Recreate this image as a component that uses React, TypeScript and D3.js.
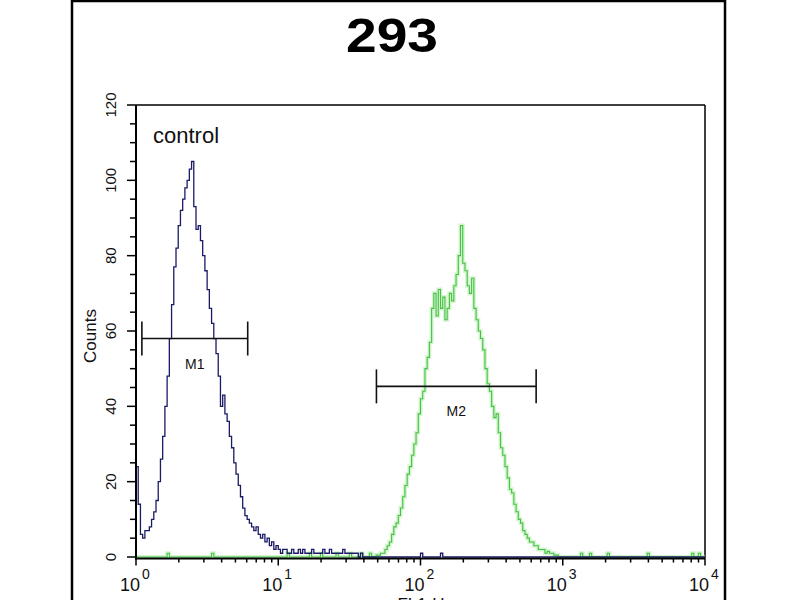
import React from 'react';
import * as d3 from 'd3';

// histogram channels: 256 channels over 4 decades (64 per decade)
const CHANNELS = 256;
const PER_DECADE = 64;

// control (blue) counts, starting at channel 0
const controlStart = 0;
const controlCounts = [
  24, 14, 6, 5, 7, 7, 8, 10, 12, 15, 20, 26, 32, 40, 48, 58,
  67, 77, 82, 88, 92, 95, 98, 100, 103, 105, 93, 87, 88, 84, 80, 76,
  71, 66, 62, 58, 54, 48, 40, 43, 38, 36, 32, 29, 25, 22, 19, 16,
  13, 11, 10, 9, 8, 7, 8, 6, 5, 6, 4, 5, 3, 4, 2, 3,
  2, 1, 2, 2, 1, 1, 2, 1, 1, 2, 1, 2, 1, 1, 1, 2,
  1, 1, 1, 1, 2, 1, 1, 2, 1, 1, 1, 1, 1, 2, 1, 1,
  1, 1, 1, 1, 0, 1, 0, 0,
];
const controlBlips = [128, 137];

// sample (green) counts, starting at channel 108
const stimStart = 108;
const stimCounts = [
  0.5, 0.5, 1, 1, 2, 3, 4, 6, 8, 9, 11, 13, 16, 19, 22, 24,
  27, 30, 33, 38, 42, 44, 50, 53, 57, 66, 70, 64, 71, 66, 69, 63,
  66, 70, 68, 72, 75, 80, 88, 78, 76, 72, 70, 74, 66, 63, 60, 58,
  55, 50, 46, 44, 40, 37, 38, 33, 29, 27, 24, 21, 18, 17, 14, 12,
  10, 9, 7, 6, 5, 4, 4, 3, 3, 2, 2, 2, 1, 1.5, 1, 1,
  0.5, 0.5, 0,
];
const stimBlips = [14, 34, 68, 78, 83, 90, 96, 101, 105, 200, 204, 212, 230, 250, 253];

// markers: [label, low, high, count level]
const markers: [string, number, number, number][] = [
  ['M1', 1.1, 6.1, 58],
  ['M2', 49, 650, 45.3],
];

const xDecades = [1, 10, 100, 1000, 10000];
const yTicks = d3.range(0, 121, 5);
const yLabels = [0, 20, 40, 60, 80, 100, 120];

function fullSeries(start: number, counts: number[], blips: number[]) {
  const arr = new Array(CHANNELS).fill(0);
  counts.forEach((c, i) => { arr[start + i] = c; });
  blips.forEach((b) => { if (arr[b] < 1) arr[b] = 1; });
  return arr;
}

const font = '"Liberation Sans", Arial, sans-serif';

export default function App() {
  const x = d3.scaleLog().domain([1, 1e4]).range([136, 705]);
  const y = d3.scaleLinear().domain([0, 120]).range([557, 105]);
  const axisY = 558.5;

  const line = d3.line<[number, number]>()
    .x((d) => d[0])
    .y((d) => d[1])
    .curve(d3.curveStepAfter);

  const toPath = (arr: number[]) => {
    const pts: [number, number][] = arr.map((c, j) => [x(Math.pow(10, j / PER_DECADE)), y(c)]);
    pts.push([x(1e4), y(arr[arr.length - 1])]);
    return line(pts) || '';
  };

  const control = toPath(fullSeries(controlStart, controlCounts, controlBlips));
  const stim = toPath(fullSeries(stimStart, stimCounts, stimBlips));

  const xMinor = x.ticks().filter((t) => !xDecades.includes(t));

  return (
    <svg width={800} height={600} style={{ position: 'fixed', left: 0, top: 0, background: '#fff' }}>
      <rect x={0} y={0} width={800} height={600} fill="#fff" />
      {/* outer frame */}
      <rect x={72} y={1} width={653} height={620} fill="none" stroke="#000" strokeWidth={2.5} />

      {/* title */}
      <text x={392} y={52} textAnchor="middle" fontFamily={font} fontWeight="bold" fontSize={48}
        textLength={92} lengthAdjust="spacingAndGlyphs">293</text>

      {/* plot box */}
      <line x1={136} x2={705} y1={105} y2={105} stroke="#000" strokeWidth={1.5} />
      <line x1={705} x2={705} y1={105} y2={axisY} stroke="#000" strokeWidth={1.5} />

      {/* histograms */}
      <path d={stim} fill="none" stroke="#b6eeae" strokeWidth={4} strokeOpacity={0.6} />
      <path d={stim} fill="none" stroke="#46c046" strokeWidth={1.1} />
      <path d={control} fill="none" stroke="#1a1a66" strokeWidth={1.3} />

      {/* axes */}
      <line x1={136} x2={136} y1={105} y2={axisY + 1} stroke="#000" strokeWidth={2} />
      <line x1={135} x2={705} y1={axisY} y2={axisY} stroke="#000" strokeWidth={2} />

      {yTicks.map((t) => (
        <line key={'yt' + t} x1={t % 20 === 0 ? 127 : 130} x2={136} y1={y(t)} y2={y(t)} stroke="#000" strokeWidth={1.5} />
      ))}
      {yLabels.map((t) => (
        <text key={'yl' + t} transform={`translate(116,${y(t)}) rotate(-90)`} textAnchor="middle"
          fontFamily={font} fontSize={15} fill="#111">{t}</text>
      ))}
      <text transform="translate(96,336) rotate(-90)" textAnchor="middle" fontFamily={font} fontSize={17} fill="#111">Counts</text>

      {xDecades.map((t) => (
        <line key={'xt' + t} x1={x(t)} x2={x(t)} y1={axisY} y2={axisY + 7} stroke="#000" strokeWidth={1.5} />
      ))}
      {xMinor.map((t) => (
        <line key={'xm' + t} x1={x(t)} x2={x(t)} y1={axisY} y2={axisY + 4} stroke="#000" strokeWidth={1.5} />
      ))}
      {xDecades.map((t, i) => (
        <g key={'xl' + t}>
          <text x={x(t) + 4} y={591} textAnchor="end" fontFamily={font} fontSize={18} fill="#111">10</text>
          <text x={x(t) + 6} y={579} fontFamily={font} fontSize={14} fill="#111">{i}</text>
        </g>
      ))}
      <text x={421} y={610} textAnchor="middle" fontFamily={font} fontSize={17} fill="#111">FL1-H</text>

      {/* control label */}
      <text x={153} y={143} fontFamily={font} fontSize={22} fill="#111">control</text>

      {/* markers */}
      {markers.map(([name, lo, hi, lvl]) => (
        <g key={name} stroke="#111" strokeWidth={1.6}>
          <line x1={x(lo)} x2={x(hi)} y1={y(lvl)} y2={y(lvl)} />
          <line x1={x(lo)} x2={x(lo)} y1={y(lvl) - 17} y2={y(lvl) + 17} />
          <line x1={x(hi)} x2={x(hi)} y1={y(lvl) - 17} y2={y(lvl) + 17} />
          <text x={(x(lo) + x(hi)) / 2} y={y(lvl) + 30} textAnchor="middle" fontFamily={font}
            fontSize={14} stroke="none" fill="#111">{name}</text>
        </g>
      ))}
    </svg>
  );
}
